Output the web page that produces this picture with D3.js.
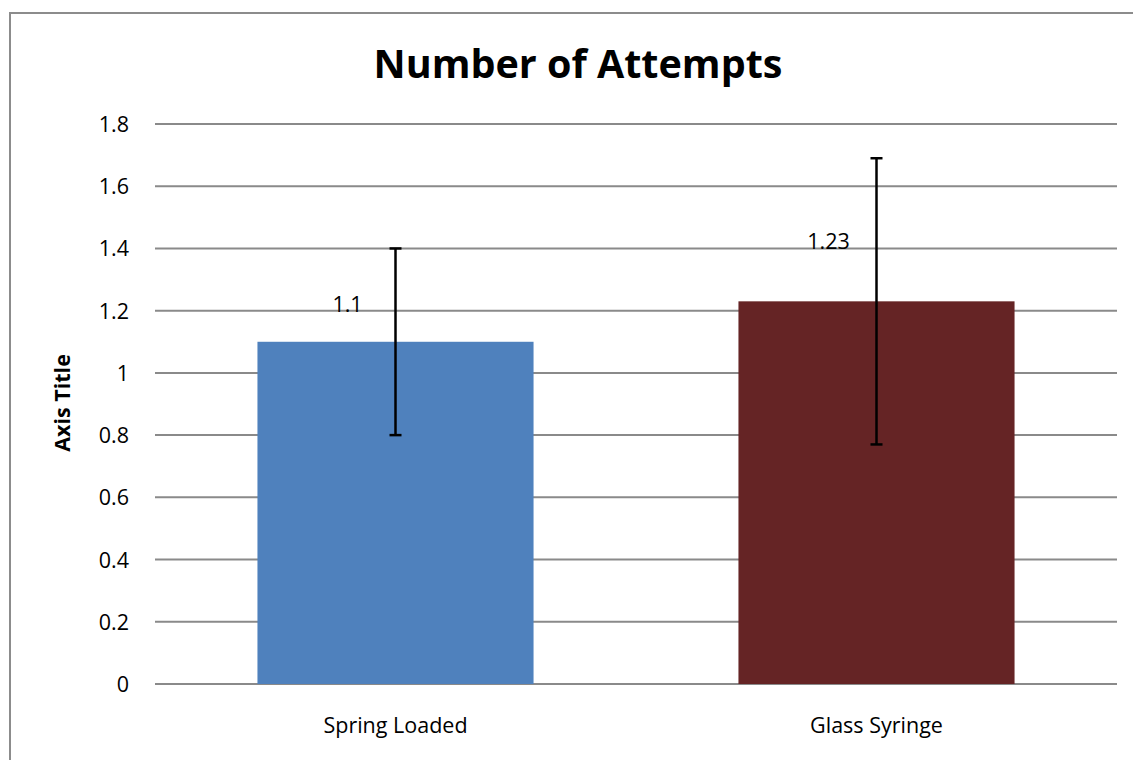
<!DOCTYPE html>
<html><head><meta charset="utf-8">
<script src="https://cdn.jsdelivr.net/npm/d3@7"></script>
<style>body{margin:0;background:#fff;}svg{display:block;} svg text{font-family:"Open Sans",Lato,sans-serif;}</style>
</head><body>
<script>
const categories = ["Spring Loaded", "Glass Syringe"];
const values = [1.1, 1.23];
const errors = [0.3, 0.46];
const barColors = ["#4F81BD", "#652425"];
const valueLabels = ["1.1", "1.23"];
const yTicks = [0, 0.2, 0.4, 0.6, 0.8, 1, 1.2, 1.4, 1.6, 1.8];
const labelLift = [0.1, 0.17]; // label positions (value units above bar top)

(function () {
const W = 1133, H = 760;
const svg = d3.select("body").append("svg").attr("width", W).attr("height", H);

// outer border
svg.append("path").attr("d", `M10,${H} V13 H${W}`).attr("fill", "none")
  .attr("stroke", "#8c8c8c").attr("stroke-width", 2);

const pLeft = 155, pRight = 1117, pTop = 124, pBottom = 684;
const x = d3.scaleBand().domain(categories).range([pLeft, pRight]).paddingInner(0.4260).paddingOuter(0.2130);
const y = d3.scaleLinear().domain([0, 1.8]).range([pBottom, pTop]);

// gridlines
svg.append("g").selectAll("line").data(yTicks).join("line")
  .attr("x1", pLeft).attr("x2", pRight)
  .attr("y1", d => y(d)).attr("y2", d => y(d))
  .attr("stroke", "#8a8a8a").attr("stroke-width", 2);

// y axis labels
const yAxis = d3.axisLeft(y).tickValues(yTicks).tickSize(0).tickPadding(0).tickFormat(d3.format("~g"));
const gy = svg.append("g").attr("transform", `translate(${129},0)`).call(yAxis);
gy.attr("font-family", null);
gy.select(".domain").remove();
gy.selectAll("text").attr("font-size", 21.5).attr("fill", "#000").attr("dy", "0.35em");

// bars
svg.append("g").selectAll("rect").data(categories).join("rect")
  .attr("x", d => x(d)).attr("width", x.bandwidth())
  .attr("y", (d, i) => y(values[i])).attr("height", (d, i) => y(0) - y(values[i]))
  .attr("fill", (d, i) => barColors[i]);

// error bars
const eb = svg.append("g").attr("stroke", "#000").attr("stroke-width", 2.5);
categories.forEach((c, i) => {
  const cx = x(c) + x.bandwidth() / 2;
  const y1 = y(values[i] + errors[i]), y2 = y(values[i] - errors[i]);
  eb.append("line").attr("x1", cx).attr("x2", cx).attr("y1", y1).attr("y2", y2);
  eb.append("line").attr("x1", cx - 6).attr("x2", cx + 6).attr("y1", y1).attr("y2", y1);
  eb.append("line").attr("x1", cx - 6).attr("x2", cx + 6).attr("y1", y2).attr("y2", y2);
});

// value labels
svg.append("g").selectAll("text").data(categories).join("text")
  .attr("x", d => x(d) + x.bandwidth() / 2 - 48)
  .attr("y", (d, i) => y(values[i] + labelLift[i]) + 1)
  .attr("text-anchor", "middle").attr("font-size", 21.5).attr("fill", "#000")
  .text((d, i) => valueLabels[i]);

// x axis labels
const xAxis = d3.axisBottom(x).tickSize(0).tickPadding(0);
const gx = svg.append("g").attr("transform", `translate(0,${pBottom})`).call(xAxis);
gx.attr("font-family", null);
gx.select(".domain").remove();
gx.selectAll("text").attr("font-size", 21.5).attr("fill", "#000").attr("dy", 0).attr("y", 49);

// title
svg.append("text").attr("x", 578).attr("y", 78).attr("text-anchor", "middle")
  .attr("font-size", 39.5).attr("font-weight", "bold").text("Number of Attempts");

// axis title
svg.append("text").attr("transform", "translate(70,403) rotate(-90)").attr("text-anchor", "middle")
  .attr("font-size", 21.5).attr("font-weight", "bold").text("Axis Title");
})();
</script>
</body></html>
